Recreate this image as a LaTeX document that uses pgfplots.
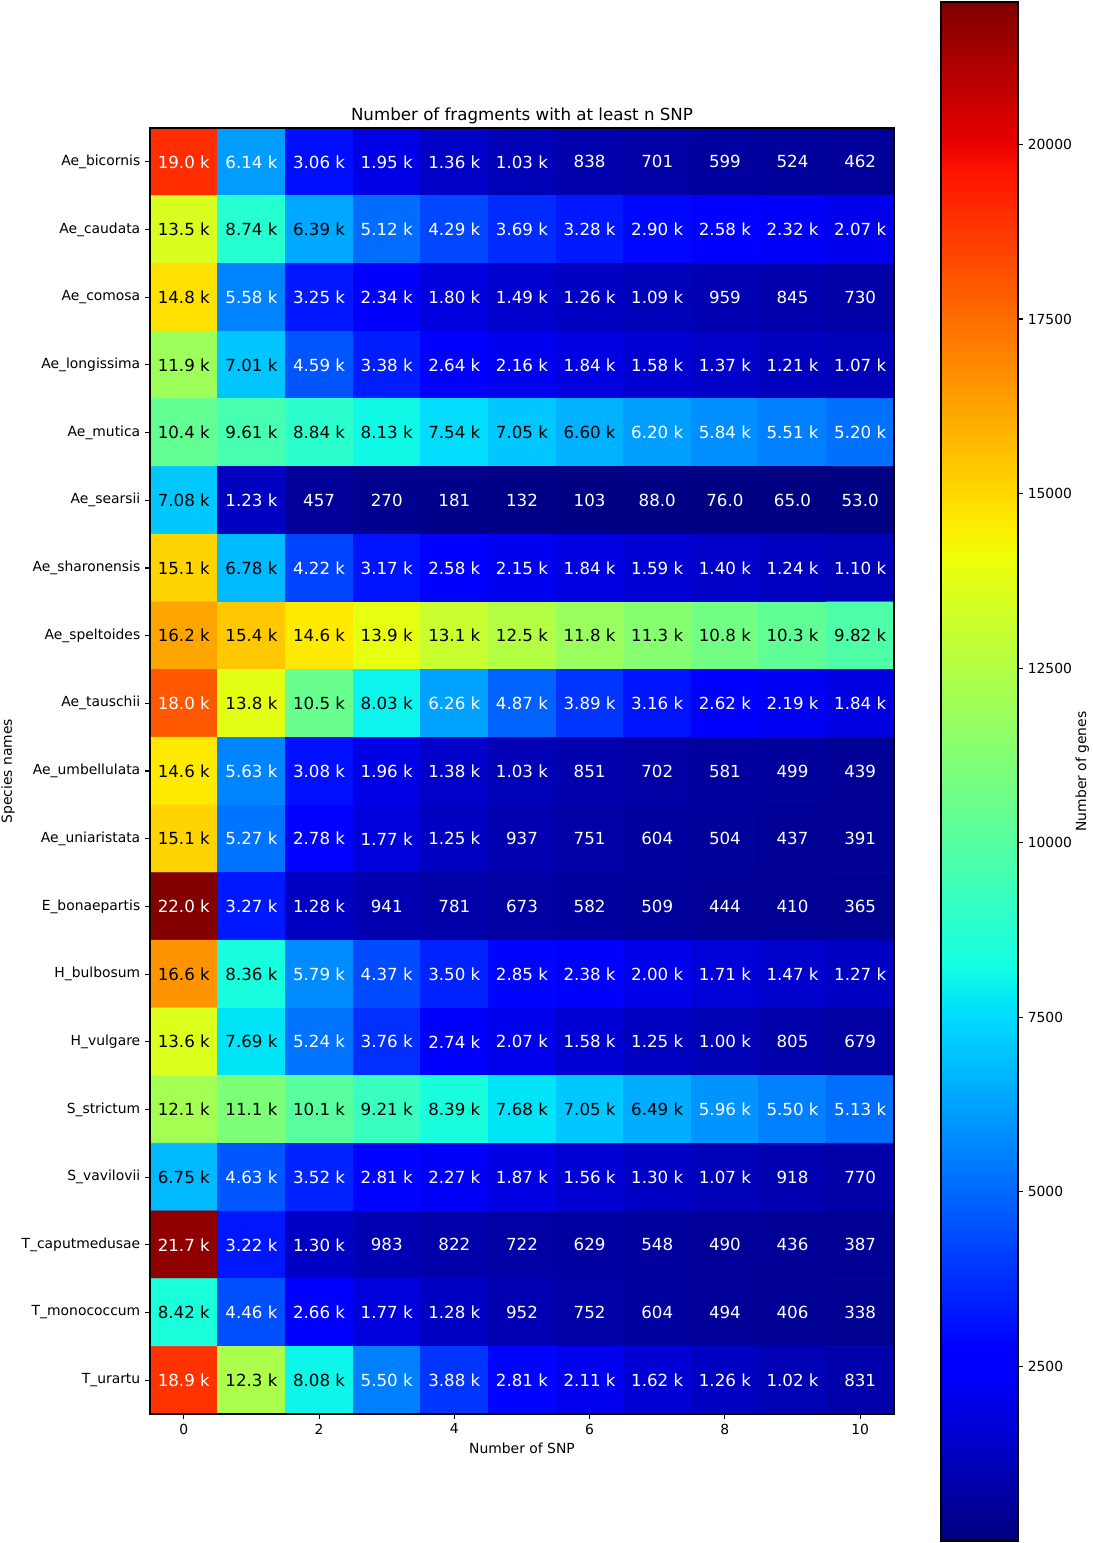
\documentclass[border=0pt]{standalone}
\usepackage{pgfplots}
\pgfplotsset{compat=1.18}
\usepackage{pgfplotstable}
\usepackage{fontspec}
\setmainfont{DejaVu Sans}
\pgfkeys{/pgf/number format/assume math mode=true}
\pgfplotsset{colormap={mjet}{
  rgb(0pt)=(0,0,0.5) rgb(110pt)=(0,0,1) rgb(125pt)=(0,0,1)
  rgb(340pt)=(0,0.86,1) rgb(350pt)=(0,0.9,0.968) rgb(375pt)=(0.0806,1,0.887)
  rgb(640pt)=(0.935,1,0.032) rgb(650pt)=(0.968,0.963,0) rgb(660pt)=(1,0.926,0)
  rgb(890pt)=(1,0.074,0) rgb(910pt)=(0.909,0,0) rgb(1000pt)=(0.5,0,0)}}

\pgfplotstableread[row sep=\\]{
x y v\\
0 0 19000\\ 1 0 6140\\ 2 0 3060\\ 3 0 1950\\ 4 0 1360\\ 5 0 1030\\ 6 0 838\\ 7 0 701\\ 8 0 599\\ 9 0 524\\ 10 0 462\\
0 1 13500\\ 1 1 8740\\ 2 1 6390\\ 3 1 5120\\ 4 1 4290\\ 5 1 3690\\ 6 1 3280\\ 7 1 2900\\ 8 1 2580\\ 9 1 2320\\ 10 1 2070\\
0 2 14800\\ 1 2 5580\\ 2 2 3250\\ 3 2 2340\\ 4 2 1800\\ 5 2 1490\\ 6 2 1260\\ 7 2 1090\\ 8 2 959\\ 9 2 845\\ 10 2 730\\
0 3 11900\\ 1 3 7010\\ 2 3 4590\\ 3 3 3380\\ 4 3 2640\\ 5 3 2160\\ 6 3 1840\\ 7 3 1580\\ 8 3 1370\\ 9 3 1210\\ 10 3 1070\\
0 4 10400\\ 1 4 9610\\ 2 4 8840\\ 3 4 8130\\ 4 4 7540\\ 5 4 7050\\ 6 4 6600\\ 7 4 6200\\ 8 4 5840\\ 9 4 5510\\ 10 4 5200\\
0 5 7080\\ 1 5 1230\\ 2 5 457\\ 3 5 270\\ 4 5 181\\ 5 5 132\\ 6 5 103\\ 7 5 88\\ 8 5 76\\ 9 5 65\\ 10 5 53\\
0 6 15100\\ 1 6 6780\\ 2 6 4220\\ 3 6 3170\\ 4 6 2580\\ 5 6 2150\\ 6 6 1840\\ 7 6 1590\\ 8 6 1400\\ 9 6 1240\\ 10 6 1100\\
0 7 16200\\ 1 7 15400\\ 2 7 14600\\ 3 7 13900\\ 4 7 13100\\ 5 7 12500\\ 6 7 11800\\ 7 7 11300\\ 8 7 10800\\ 9 7 10300\\ 10 7 9820\\
0 8 18000\\ 1 8 13800\\ 2 8 10500\\ 3 8 8030\\ 4 8 6260\\ 5 8 4870\\ 6 8 3890\\ 7 8 3160\\ 8 8 2620\\ 9 8 2190\\ 10 8 1840\\
0 9 14600\\ 1 9 5630\\ 2 9 3080\\ 3 9 1960\\ 4 9 1380\\ 5 9 1030\\ 6 9 851\\ 7 9 702\\ 8 9 581\\ 9 9 499\\ 10 9 439\\
0 10 15100\\ 1 10 5270\\ 2 10 2780\\ 3 10 1770\\ 4 10 1250\\ 5 10 937\\ 6 10 751\\ 7 10 604\\ 8 10 504\\ 9 10 437\\ 10 10 391\\
0 11 22000\\ 1 11 3270\\ 2 11 1280\\ 3 11 941\\ 4 11 781\\ 5 11 673\\ 6 11 582\\ 7 11 509\\ 8 11 444\\ 9 11 410\\ 10 11 365\\
0 12 16600\\ 1 12 8360\\ 2 12 5790\\ 3 12 4370\\ 4 12 3500\\ 5 12 2850\\ 6 12 2380\\ 7 12 2000\\ 8 12 1710\\ 9 12 1470\\ 10 12 1270\\
0 13 13600\\ 1 13 7690\\ 2 13 5240\\ 3 13 3760\\ 4 13 2740\\ 5 13 2070\\ 6 13 1580\\ 7 13 1250\\ 8 13 1000\\ 9 13 805\\ 10 13 679\\
0 14 12100\\ 1 14 11100\\ 2 14 10100\\ 3 14 9210\\ 4 14 8390\\ 5 14 7680\\ 6 14 7050\\ 7 14 6490\\ 8 14 5960\\ 9 14 5500\\ 10 14 5130\\
0 15 6750\\ 1 15 4630\\ 2 15 3520\\ 3 15 2810\\ 4 15 2270\\ 5 15 1870\\ 6 15 1560\\ 7 15 1300\\ 8 15 1070\\ 9 15 918\\ 10 15 770\\
0 16 21700\\ 1 16 3220\\ 2 16 1300\\ 3 16 983\\ 4 16 822\\ 5 16 722\\ 6 16 629\\ 7 16 548\\ 8 16 490\\ 9 16 436\\ 10 16 387\\
0 17 8420\\ 1 17 4460\\ 2 17 2660\\ 3 17 1770\\ 4 17 1280\\ 5 17 952\\ 6 17 752\\ 7 17 604\\ 8 17 494\\ 9 17 406\\ 10 17 338\\
0 18 18900\\ 1 18 12300\\ 2 18 8080\\ 3 18 5500\\ 4 18 3880\\ 5 18 2810\\ 6 18 2110\\ 7 18 1620\\ 8 18 1260\\ 9 18 1020\\ 10 18 831\\
}\heat

\newcommand{\celllabel}[1]{%
  \ifnum#1>6300 \ifnum#1<16700 \color{black}\else\color{white}\fi\else\color{white}\fi
  \pgfkeys{/pgf/fpu=true,/pgf/fpu/output format=fixed}%
  \ifnum#1<100 \pgfmathprintnumber[fixed,fixed zerofill,precision=1]{#1}%
  \else\ifnum#1<1000 \pgfmathprintnumber[fixed,precision=0]{#1}%
  \else\ifnum#1<9995 \pgfmathparse{#1/1000}\pgfmathprintnumber[fixed,fixed zerofill,precision=2]{\pgfmathresult}\ k%
  \else\pgfmathparse{#1/1000}\pgfmathprintnumber[fixed,fixed zerofill,precision=1]{\pgfmathresult}\ k%
  \fi\fi\fi}

\begin{document}
\begin{tikzpicture}
\useasboundingbox (0pt,0pt) rectangle (786.96pt,1110.96pt);
\begin{axis}[
  at={(108pt,92.88pt)}, anchor=south west,
  scale only axis, width=535.68pt, height=925.92pt,
  xmin=-0.5, xmax=10.5, ymin=-0.5, ymax=18.5, y dir=reverse,
  enlargelimits=false,
  xtick={0,2,...,10}, ytick={0,1,...,18},
  yticklabels={Ae\_bicornis,Ae\_caudata,Ae\_comosa,Ae\_longissima,Ae\_mutica,Ae\_searsii,Ae\_sharonensis,Ae\_speltoides,Ae\_tauschii,Ae\_umbellulata,Ae\_uniaristata,E\_bonaepartis,H\_bulbosum,H\_vulgare,S\_strictum,S\_vavilovii,T\_caputmedusae,T\_monococcum,T\_urartu},
  tick align=outside, xtick pos=left, ytick pos=left, major tick length=3.5pt,
  every tick/.style={black, line width=0.8pt},
  axis line style={line width=0.8pt},
  ticklabel style={font=\fontsize{10}{12}\selectfont},
  title={Number of fragments with at least n SNP},
  title style={at={(axis description cs:0.5,1.0027)}, anchor=center, font=\fontsize{12}{14}\selectfont},
  xlabel={Number of SNP},
  xlabel style={at={(axis description cs:0.5,-0.02644)}, anchor=center, font=\fontsize{10}{12}\selectfont},
  ylabel={Species names},
  ylabel style={at={(axis description cs:-0.19086,0.5)}, anchor=center, font=\fontsize{10}{12}\selectfont},
  colormap name=mjet, point meta min=0, point meta max=22040,
  axis on top,
  colorbar,
  colorbar/width=55.44pt,
  colorbar style={
    at={(parent axis.north east)}, anchor=north west,
    xshift=25.3pt, yshift=90.72pt,
    scale only axis, width=55.44pt, height=1108.08pt,
    ytick={2500,5000,...,20000},
    ytick pos=right, yticklabel pos=right,
    tick align=outside, major tick length=3.5pt,
    every tick/.style={black, line width=0.8pt},
    axis line style={line width=0.8pt},
    yticklabel style={font=\fontsize{10}{12}\selectfont, /pgf/number format/1000 sep={}},
    scaled y ticks=false,
    ylabel={Number of genes},
    ylabel style={at={(axis description cs:1.836,0.5)}, anchor=center, font=\fontsize{10}{12}\selectfont},
  },
]
\addplot[matrix plot*, mesh/cols=11, point meta=explicit] table[x=x, y=y, meta=v]{\heat};
\addplot[draw=none, mark=none, point meta=explicit symbolic,
  nodes near coords={\celllabel{\pgfplotspointmeta}},
  nodes near coords style={anchor=center, inner sep=0pt, font=\fontsize{12}{14}\selectfont}]
  table[x=x, y=y, meta=v]{\heat};
\end{axis}
\end{tikzpicture}
\end{document}
